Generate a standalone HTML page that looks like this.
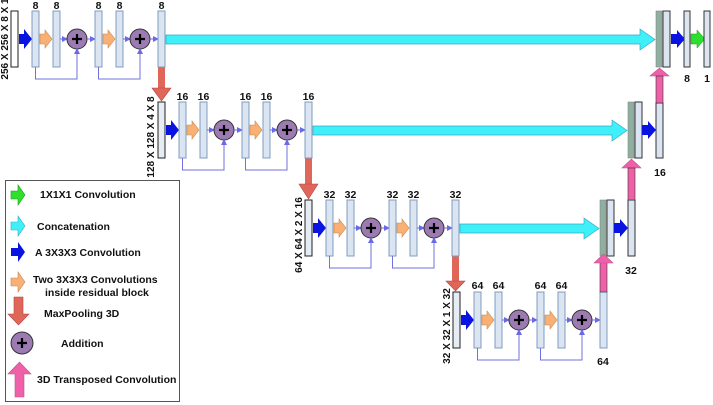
<!DOCTYPE html>
<html><head><meta charset="utf-8"><style>
html,body{margin:0;padding:0;background:#fff;width:713px;height:405px;overflow:hidden}
svg{display:block}
text{font-family:"Liberation Sans",sans-serif;font-weight:bold;fill:#111}
</style></head><body>
<svg width="713" height="405" viewBox="0 0 713 405" xmlns="http://www.w3.org/2000/svg">
<defs>
<marker id="ah" markerWidth="6" markerHeight="6" refX="5" refY="3" orient="auto" markerUnits="userSpaceOnUse"><path d="M0,0 L6,3 L0,6z" fill="#6a6ae8"/></marker>
<g id="blk">
  <rect x="0" y="0" width="7" height="56" fill="#e6ecf3" stroke="#222" stroke-width="1"/>
  <polygon points="8,23 13,23 13,18 21,28 13,38 13,33 8,33" fill="#0a14e0"/>
  <rect x="21" y="0" width="7" height="56" fill="#dbe5f1" stroke="#7f9cc0"/>
  <polygon points="29,23 34,23 34,19 41,28 34,37 34,33 29,33" fill="#f8b074" stroke="#c88a50" stroke-width="0.6"/>
  <rect x="42" y="0" width="7" height="56" fill="#dbe5f1" stroke="#7f9cc0"/>
  <line x1="49" y1="28" x2="56" y2="28" stroke="#6a6ae8" marker-end="url(#ah)"/>
  <circle cx="66" cy="28" r="10" fill="#9c7ab2" stroke="#333"/>
  <path d="M61,28h10M66,23v10" stroke="#000" stroke-width="2.2"/>
  <line x1="76" y1="28" x2="84" y2="28" stroke="#6a6ae8" marker-end="url(#ah)"/>
  <rect x="84" y="0" width="7" height="56" fill="#dbe5f1" stroke="#7f9cc0"/>
  <polygon points="92,23 97,23 97,19 104,28 97,37 97,33 92,33" fill="#f8b074" stroke="#c88a50" stroke-width="0.6"/>
  <rect x="105" y="0" width="7" height="56" fill="#dbe5f1" stroke="#7f9cc0"/>
  <line x1="112" y1="28" x2="119" y2="28" stroke="#6a6ae8" marker-end="url(#ah)"/>
  <circle cx="129" cy="28" r="10" fill="#9c7ab2" stroke="#333"/>
  <path d="M124,28h10M129,23v10" stroke="#000" stroke-width="2.2"/>
  <line x1="139" y1="28" x2="147" y2="28" stroke="#6a6ae8" marker-end="url(#ah)"/>
  <polyline points="24.5,56 24.5,68 66,68 66,38" fill="none" stroke="#7070e0" marker-end="url(#ah)"/>
  <polyline points="87.5,56 87.5,68 129,68 129,38" fill="none" stroke="#7070e0" marker-end="url(#ah)"/>
</g>
</defs>

<rect x="158" y="67" width="7" height="23" fill="#e0665a"/><polygon points="152,88 171,88 161.5,101" fill="#e0665a" stroke="#b04840" stroke-width="0.6"/>
<rect x="305" y="158" width="7" height="27" fill="#e0665a"/><polygon points="299,184 318,184 308.5,199" fill="#e0665a" stroke="#b04840" stroke-width="0.6"/>
<rect x="452" y="256" width="7" height="26" fill="#e0665a"/><polygon points="446,281 465,281 455.5,291" fill="#e0665a" stroke="#b04840" stroke-width="0.6"/>

<use href="#blk" x="11" y="11"/>
<use href="#blk" x="158" y="102"/>
<use href="#blk" x="305" y="200"/>
<use href="#blk" x="453" y="292"/>
<rect x="11" y="11" width="7" height="56" fill="#fff" stroke="#222"/>
<rect x="158" y="11" width="7" height="56" fill="#dbe5f1" stroke="#7f9cc0"/>
<rect x="305" y="102" width="7" height="56" fill="#dbe5f1" stroke="#7f9cc0"/>
<rect x="452" y="200" width="7" height="56" fill="#dbe5f1" stroke="#7f9cc0"/>
<rect x="600" y="292" width="7" height="56" fill="#dbe5f1" stroke="#7f9cc0"/>

<polygon points="166,35 640,35 640,29 655,39.5 640,50 640,44 166,44" fill="#3ff0f8" stroke="#3aa8c8" stroke-width="0.7"/>
<polygon points="313,126 612,126 612,120 627,130.5 612,141 612,135 313,135" fill="#3ff0f8" stroke="#3aa8c8" stroke-width="0.7"/>
<polygon points="460,224 584,224 584,218 599,228.5 584,239 584,233 460,233" fill="#3ff0f8" stroke="#3aa8c8" stroke-width="0.7"/>

<rect x="656" y="11" width="6" height="56" fill="#8fb0a0" stroke="#888" stroke-width="0.6"/>
<rect x="663" y="11" width="7" height="56" fill="#dbe5f1" stroke="#333"/>
<polygon points="671,34 677,34 677,30 685,39 677,48 677,44 671,44" fill="#0a14e0"/>
<rect x="684" y="11" width="6" height="56" fill="#dbe5f1" stroke="#333"/>
<polygon points="691,34 697,34 697,30 705,39 697,48 697,44 691,44" fill="#2ee02e" stroke="#1a9a1a" stroke-width="0.5"/>
<rect x="704" y="11" width="6" height="56" fill="#dbe5f1" stroke="#333"/>
<text x="687" y="82" font-size="10.5" text-anchor="middle">8</text>
<text x="707" y="82" font-size="10.5" text-anchor="middle">1</text>

<polygon points="650,76 669,76 659.5,68" fill="#f060a8" stroke="#c05090" stroke-width="0.6"/>
<rect x="628" y="102" width="6" height="56" fill="#8fb0a0" stroke="#888" stroke-width="0.6"/>
<rect x="635" y="102" width="7" height="56" fill="#dbe5f1" stroke="#333"/>
<polygon points="642,125 648,125 648,121 656,130 648,139 648,135 642,135" fill="#0a14e0"/>
<rect x="656" y="103" width="7" height="55" fill="#dbe5f1" stroke="#333"/>
<rect x="656" y="76" width="7" height="27" fill="#f060a8" stroke="#333" stroke-width="0.6"/>
<text x="660" y="176" font-size="10.5" text-anchor="middle">16</text>

<polygon points="622,168 641,168 631.5,159" fill="#f060a8" stroke="#c05090" stroke-width="0.6"/>
<rect x="600" y="200" width="6" height="56" fill="#8fb0a0" stroke="#888" stroke-width="0.6"/>
<rect x="607" y="200" width="7" height="56" fill="#dbe5f1" stroke="#333"/>
<polygon points="614,223 620,223 620,219 628,228 620,237 620,233 614,233" fill="#0a14e0"/>
<rect x="628" y="200" width="7" height="56" fill="#dbe5f1" stroke="#333"/>
<rect x="628" y="168" width="7" height="32" fill="#f060a8" stroke="#333" stroke-width="0.6"/>
<text x="631" y="274" font-size="10.5" text-anchor="middle">32</text>

<rect x="600" y="262" width="7" height="30" fill="#f060a8" stroke="#333" stroke-width="0.6"/><polygon points="594,263 613,263 603.5,254" fill="#f060a8" stroke="#c05090" stroke-width="0.6"/>
<text x="603" y="365" font-size="10.5" text-anchor="middle">64</text>

<g font-size="10.5" text-anchor="middle">
<text x="35.5" y="9">8</text><text x="56.5" y="9">8</text><text x="98.5" y="9">8</text><text x="119.5" y="9">8</text><text x="161.5" y="9">8</text>
<text x="182.5" y="100">16</text><text x="203.5" y="100">16</text><text x="245.5" y="100">16</text><text x="266.5" y="100">16</text><text x="308.5" y="100">16</text>
<text x="329.5" y="198">32</text><text x="350.5" y="198">32</text><text x="392.5" y="198">32</text><text x="413.5" y="198">32</text><text x="455.5" y="198">32</text>
<text x="477.5" y="289">64</text><text x="498.5" y="289">64</text><text x="540.5" y="289">64</text><text x="561.5" y="289">64</text>
</g>
<g font-size="10" text-anchor="middle">
<text transform="translate(8,39) rotate(-90)">256 X 256 X 8 X 1</text>
<text transform="translate(154,137) rotate(-90)">128 X 128 X 4 X 8</text>
<text transform="translate(302,235) rotate(-90)">64 X 64 X 2 X 16</text>
<text transform="translate(450,326) rotate(-90)">32 X 32 X 1 X 32</text>
</g>

<rect x="5.5" y="180.5" width="174" height="221" fill="#fff" stroke="#555"/>
<polygon points="11,191 18,191 18,185 25,195 18,205 18,199 11,199" fill="#2ee02e" stroke="#1a9a1a" stroke-width="0.6"/>
<polygon points="11,222 18,222 18,216 25,226 18,236 18,230 11,230" fill="#3ff0f8" stroke="#3aa8c8" stroke-width="0.6"/>
<polygon points="11,248 18,248 18,242 25,252 18,262 18,256 11,256" fill="#0a14e0"/>
<polygon points="11,278 18,278 18,272 25,282 18,292 18,286 11,286" fill="#f8b074" stroke="#c88a50" stroke-width="0.6"/>
<polygon points="14,297 23,297 23,314 29,314 18.5,325 8,314 14,314" fill="#e0665a" stroke="#b04840" stroke-width="0.6"/>
<circle cx="22" cy="343" r="11" fill="#9c7ab2" stroke="#333"/>
<path d="M17,343h10M22,338v10" stroke="#000" stroke-width="2.2"/>
<polygon points="15,397 24,397 24,374 31,374 19.5,362 8,374 15,374" fill="#f060a8" stroke="#c05090" stroke-width="0.6"/>
<g font-size="10.5">
<text x="40" y="198">1X1X1 Convolution</text>
<text x="37" y="230">Concatenation</text>
<text x="35" y="256">A 3X3X3 Convolution</text>
<text x="33" y="283">Two 3X3X3 Convolutions</text>
<text x="45" y="296">inside residual block</text>
<text x="44" y="317">MaxPooling 3D</text>
<text x="61" y="347">Addition</text>
<text x="37" y="383">3D Transposed Convolution</text>
</g>
</svg>
</body></html>
